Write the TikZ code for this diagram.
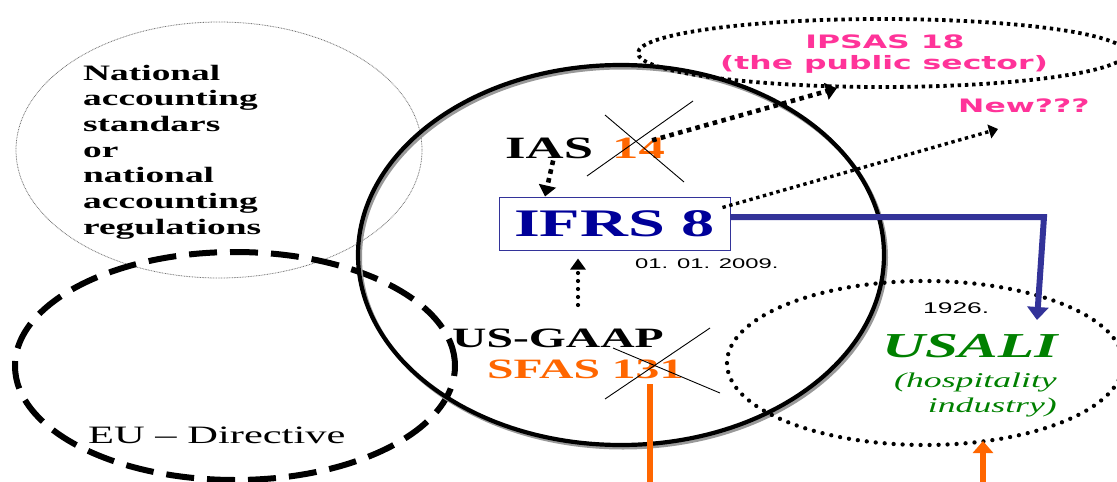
\documentclass[tikz,border=0pt]{standalone}
\usepackage{fontspec}
\setmainfont{Liberation Serif}
\newfontfamily\arialf{Liberation Sans}
\newfontfamily\verdf{DejaVu Sans}
\usepackage{graphicx}
\usetikzlibrary{shapes.geometric,arrows.meta,calc}
\definecolor{pinkc}{HTML}{FF3399}
\definecolor{orangec}{HTML}{FF6600}
\definecolor{navyc}{HTML}{000099}
\definecolor{bluec}{HTML}{333399}
\definecolor{greenc}{HTML}{008000}
\newcommand\W[1]{\scalebox{1.7}[1]{#1}}
\tikzset{
  txt/.style={inner sep=0pt, anchor=base west},
  ctxt/.style={inner sep=0pt, anchor=base},
  rtxt/.style={inner sep=0pt, anchor=base east},
  sqdots/.style={line width=4.6pt, dash pattern=on 4.6pt off 4.4pt},
  rdots/.style={line width=4.2pt, line cap=round, dash pattern=on 0pt off 8pt},
  tipbig/.style={-{Triangle[length=11pt,width=17pt]}},
  crossline/.style={line width=0.9pt},
  ell/.style={ellipse, inner sep=0pt}
}
\begin{document}
\begin{tikzpicture}[x=1pt,y=-1pt]
\useasboundingbox (0,0) rectangle (1117,482);
\clip (0,0) rectangle (1117,482);

% ellipses
\node[ell, draw=black!55, line width=0.8pt, dash pattern=on 0.8pt off 0.8pt,
      minimum width=406pt, minimum height=256pt] (nat) at (219,150) {};
\node[ell, draw, line width=6pt, dash pattern=on 28pt off 13pt,
      minimum width=440pt, minimum height=228pt] (eu) at (235,366) {};
\node[ell, draw=black!40, line width=4pt, minimum width=526pt, minimum height=380pt] (mainshadow) at (623,257.5) {};
\node[ell, draw, line width=4.2pt, minimum width=526pt, minimum height=380pt] (main) at (621,255) {};
\node[ell, draw, line width=4.3pt, line cap=round, dash pattern=on 0pt off 9pt,
      minimum width=396pt, minimum height=164pt] (usali) at (925,363) {};
\node[ell, draw, line width=3.8pt, dash pattern=on 3.4pt off 3.8pt,
      minimum width=488pt, minimum height=68pt] (ipsas) at (882,53) {};

% texts
\node[txt] (nattext) at (83,80) {\W{\fontsize{22pt}{25.7pt}\selectfont\bfseries
  \begin{tabular}[t]{@{}l@{}}National\\ accounting\\ standars\\ or\\ national\\ accounting\\ regulations\end{tabular}}};
\node[txt] (eutext) at (88,443) {\W{\fontsize{25pt}{30pt}\selectfont EU – Directive}};

\node[txt] (ias) at (505,158) {\W{\fontsize{31pt}{36pt}\selectfont\bfseries IAS}};
\node[txt] (n14) at (612,158) {\W{\fontsize{31pt}{36pt}\selectfont\bfseries\color{orangec}14}};
\draw[crossline] (605,115) -- (684,182);
\draw[crossline] (587,176) -- (693,101);

\node[draw=bluec, line width=1pt, inner sep=0pt, minimum width=231pt, minimum height=53pt]
  (ifrs) at (614.5,223.5) {\raisebox{-1.5pt}{\W{\fontsize{39pt}{44pt}\selectfont\bfseries\color{navyc}IFRS 8}}};
\node[txt] (date) at (635,268) {\W{\arialf\fontsize{14pt}{16pt}\selectfont 01. 01. 2009.}};

\node[txt] (usgaap) at (452,347) {\W{\fontsize{28pt}{32pt}\selectfont\bfseries US-GAAP}};
\node[txt] (sfas) at (487,378) {\W{\fontsize{28pt}{32pt}\selectfont\bfseries\color{orangec}SFAS 131}};
\draw[crossline] (613,348) -- (720,393);
\draw[crossline] (605,399) -- (710,328);

\node[ctxt] (ipsast1) at (885,48) {\W{\verdf\bfseries\fontsize{18.5pt}{21pt}\selectfont\color{pinkc}IPSAS 18}};
\node[ctxt] (ipsast2) at (884,69) {\W{\verdf\bfseries\fontsize{18.5pt}{21pt}\selectfont\color{pinkc}(the public sector)}};
\node[txt] (new) at (958,112) {\W{\verdf\bfseries\fontsize{18.5pt}{21pt}\selectfont\color{pinkc}New???}};

\node[txt] (y1926) at (923,313) {\W{\arialf\fontsize{15.5pt}{18pt}\selectfont 1926.}};
\node[txt] (usalit) at (882,357) {\W{\fontsize{35pt}{40pt}\selectfont\bfseries\itshape\color{greenc}USALI}};
\node[rtxt] (hosp) at (1057,387) {\W{\fontsize{21pt}{25pt}\selectfont\itshape\color{greenc}(hospitality}};
\node[rtxt] (ind) at (1057,412) {\W{\fontsize{21pt}{25pt}\selectfont\itshape\color{greenc}industry)}};

% connectors
\draw[sqdots, tipbig] ([xshift=4pt,yshift=-2pt]ias.south) -- ([xshift=-69.5pt]ifrs.north);
\draw[sqdots, tipbig] ([xshift=-13pt,yshift=-3pt]n14.north east) -- (ipsas.218);

\coordinate (newtip) at (998,129);
\draw[line width=3.4pt, dash pattern=on 3.4pt off 3.6pt, -{Triangle[length=9pt,width=14pt]}]
  ([xshift=-8pt,yshift=-11pt]ifrs.north east) -- (newtip);

\coordinate (upstart) at (578,305);
\draw[rdots, -{Triangle[length=11pt,width=15pt]}] (upstart) -- ([xshift=-36.5pt,yshift=-8pt]ifrs.south);

\coordinate (bbend) at (1044,217);
\coordinate (btip) at (1037,320);
\draw[bluec, line width=6pt, -{Triangle[length=13pt,width=21pt]}] ([yshift=6.5pt]ifrs.east) -- (bbend) -- (btip);

\coordinate (o1a) at (650,384);
\coordinate (o1b) at (650,492);
\draw[orangec, line width=6.5pt] (o1a) -- (o1b);

\coordinate (o2a) at (983,492);
\coordinate (o2tip) at (983,441);
\draw[orangec, line width=6.5pt, -{Triangle[length=12pt,width=20pt]}] (o2a) -- (o2tip);
\end{tikzpicture}
\end{document}
